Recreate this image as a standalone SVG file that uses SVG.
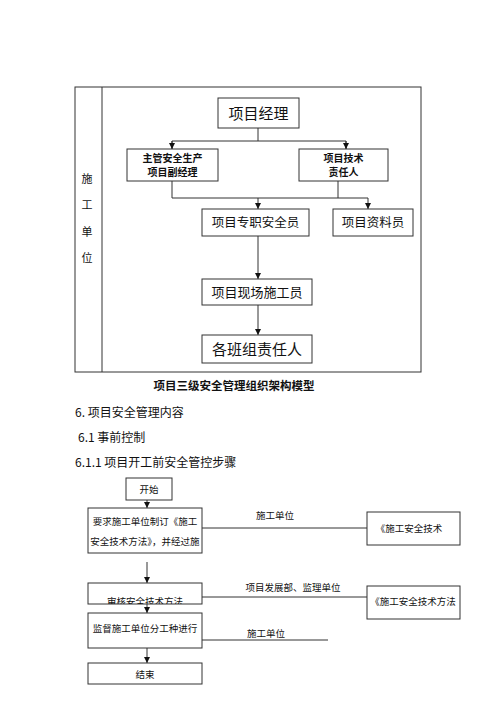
<svg xmlns="http://www.w3.org/2000/svg" width="500" height="707" viewBox="0 0 500 707">
<style>
.b{fill:#fff;stroke:#333;stroke-width:1}
.l{fill:none;stroke:#333;stroke-width:1}
text{font-family:"Noto Sans CJK SC","Liberation Serif",serif;fill:#111}
.c{text-anchor:middle}
</style>
<defs>
<marker id="a" viewBox="0 0 6 6" refX="6" refY="3" markerWidth="6" markerHeight="6" orient="auto" markerUnits="userSpaceOnUse"><path d="M0,0L6,3L0,6z" fill="#111"/></marker>
<clipPath id="cp"><rect x="88" y="583" width="114" height="21"/></clipPath>
</defs>
<rect width="500" height="707" fill="#fff"/>
<g id="frame">
<rect class="l" x="75" y="87" width="346" height="285"/>
<line class="l" x1="102" y1="87" x2="102" y2="372"/>
<text x="87" y="183" font-size="11" class="c">施</text>
<text x="87" y="209" font-size="11" class="c">工</text>
<text x="87" y="236" font-size="11" class="c">单</text>
<text x="87" y="262" font-size="11" class="c">位</text>
</g>
<g id="connectors">
<polyline class="l" points="258,128 258,141"/>
<polyline class="l" points="172,149 172,141 346,141 346,149" />
<line class="l" x1="172" y1="141" x2="172" y2="149" marker-end="url(#a)"/>
<line class="l" x1="346" y1="141" x2="346" y2="149" marker-end="url(#a)"/>
<polyline class="l" points="172,181 172,198 368,198"/>
<line class="l" x1="338" y1="181" x2="338" y2="198"/>
<line class="l" x1="258" y1="198" x2="258" y2="209" marker-end="url(#a)"/>
<line class="l" x1="368" y1="198" x2="368" y2="209" marker-end="url(#a)"/>
<line class="l" x1="258" y1="236" x2="258" y2="279" marker-end="url(#a)"/>
<line class="l" x1="258" y1="305" x2="258" y2="335" marker-end="url(#a)"/>
<line class="l" x1="147" y1="500" x2="147" y2="508" marker-end="url(#a)"/>
<line class="l" x1="202" y1="528" x2="367" y2="528"/>
<line class="l" x1="147" y1="562" x2="147" y2="583" marker-end="url(#a)"/>
<line class="l" x1="202" y1="597" x2="367" y2="597"/>
<line class="l" x1="147" y1="604" x2="147" y2="613" marker-end="url(#a)"/>
<line class="l" x1="202" y1="640" x2="328" y2="640"/>
<line class="l" x1="147" y1="648" x2="147" y2="663" marker-end="url(#a)"/>
<text x="275" y="519" font-size="9.5" class="c">施工单位</text>
<text x="293" y="591" font-size="9.5" class="c">项目发展部、监理单位</text>
<text x="266" y="637" font-size="9.5" class="c">施工单位</text>
</g>
<g id="n1"><rect class="b" x="218" y="98" width="81" height="30"/><text x="258.5" y="119" font-size="15" class="c">项目经理</text></g>
<g id="n2"><rect class="b" x="127" y="149" width="91" height="32"/><text x="172.5" y="162" font-size="10" font-weight="bold" class="c">主管安全生产</text><text x="172.5" y="176" font-size="10" font-weight="bold" class="c">项目副经理</text></g>
<g id="n3"><rect class="b" x="299" y="149" width="89" height="32"/><text x="343.5" y="162" font-size="10" font-weight="bold" class="c">项目技术</text><text x="343.5" y="176" font-size="10" font-weight="bold" class="c">责任人</text></g>
<g id="n4"><rect class="b" x="202" y="209" width="107" height="27"/><text x="255.5" y="227" font-size="12.5" class="c">项目专职安全员</text></g>
<g id="n5"><rect class="b" x="333" y="209" width="80" height="27"/><text x="373" y="227" font-size="12.5" class="c">项目资料员</text></g>
<g id="n6"><rect class="b" x="202" y="279" width="110" height="26"/><text x="257" y="297" font-size="13" class="c">项目现场施工员</text></g>
<g id="n7"><rect class="b" x="202" y="335" width="110" height="28"/><text x="257" y="355" font-size="15" class="c">各班组责任人</text></g>
<g id="captions">
<text x="234" y="390" font-size="11.5" font-weight="bold" class="c">项目三级安全管理组织架构模型</text>
<text x="75" y="417" font-size="12">6. 项目安全管理内容</text>
<text x="78" y="442" font-size="12">6.1 事前控制</text>
<text x="75" y="467" font-size="12">6.1.1 项目开工前安全管控步骤</text>
</g>
<g id="f1"><rect class="b" x="126" y="478" width="46" height="22"/><text x="149" y="493" font-size="9.5" class="c">开始</text></g>
<g id="f2"><rect class="b" x="88" y="508" width="114" height="45"/><text x="145" y="525" font-size="9.5" class="c">要求施工单位制订《施工</text><text x="145" y="545" font-size="9.5" class="c">安全技术方法》，并经过施</text></g>
<g id="f3"><rect class="b" x="367" y="512" width="93" height="33"/><text x="409" y="532" font-size="9.5" class="c">《施工安全技术</text></g>
<g id="f4"><rect class="b" x="88" y="583" width="114" height="21"/><text x="145" y="605" font-size="9.5" class="c" clip-path="url(#cp)">审核安全技术方法</text></g>
<g id="f5"><rect class="b" x="367" y="586" width="93" height="33"/><text x="413" y="605" font-size="9.5" class="c">《施工安全技术方法</text></g>
<g id="f6"><rect class="b" x="88" y="613" width="114" height="35"/><text x="145" y="632" font-size="9.5" class="c">监督施工单位分工种进行</text></g>
<g id="f7"><rect class="b" x="88" y="663" width="114" height="21"/><text x="145" y="678" font-size="9.5" class="c">结束</text></g>
</svg>
